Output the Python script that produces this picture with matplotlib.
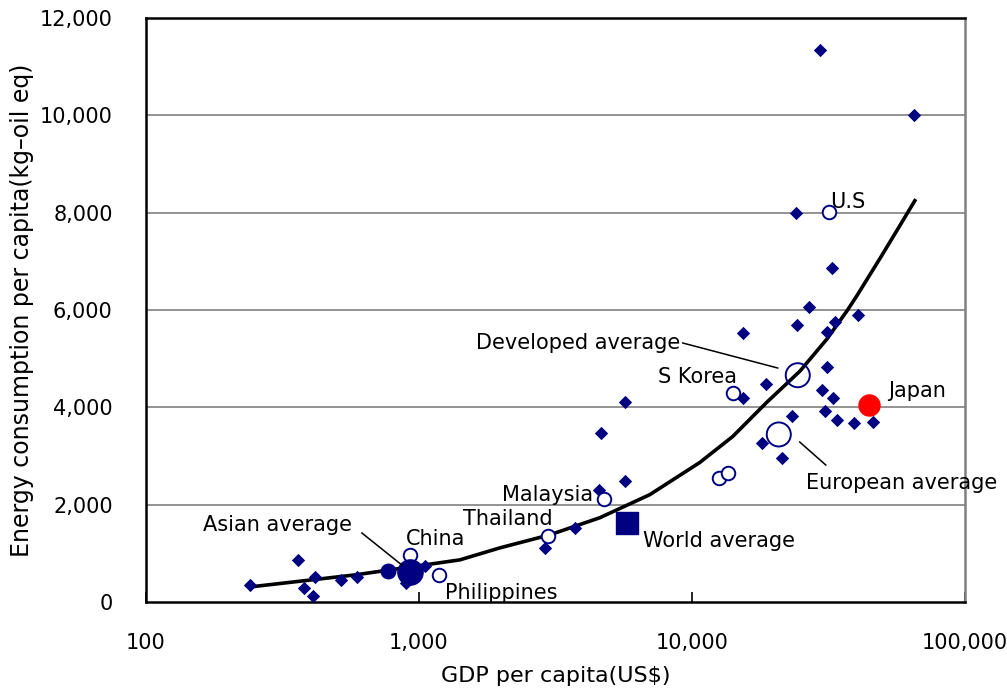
import matplotlib.pyplot as plt
from matplotlib.ticker import FuncFormatter, FixedLocator, NullLocator

plt.rcParams['font.family'] = ['DejaVu Sans']

NAVY = '#000080'

# countries (diamonds)
gdp_countries = [240, 360, 416, 380, 410, 518, 591, 896, 1052,
                 2897, 3727, 4565, 4645, 5686, 5686,
                 15380, 15380, 18660, 18030, 21360, 23230, 24250, 24040, 26840,
                 29900, 30700, 31250, 31250, 32850, 33400, 33950, 39190, 46030,
                 32570, 40550, 29440, 65040]
energy_countries = [350, 866, 515, 290, 124, 454, 522, 392, 742,
                    1113, 1526, 2309, 3464, 2495, 4103,
                    4186, 5526, 4474, 3258, 2969, 3815, 5690, 8000, 6062,
                    4350, 3920, 4830, 5550, 4200, 5750, 3730, 3670, 3691,
                    6866, 5897, 11340, 10000]

# named countries (open circles)
gdp_named = [31760, 14130, 4760, 2970, 925, 1184, 12560, 13540]
energy_named = [8020, 4290, 2124, 1361, 969, 557, 2557, 2660]

# averages
gdp_dev, energy_dev = 24450, 4660
gdp_eu, energy_eu = 20830, 3443
gdp_asia, energy_asia = 927, 619
gdp_world, energy_world = 5780, 1629
gdp_japan, energy_japan = 44480, 4041
gdp_mid, energy_mid = 769, 640

# trend line
trend_gdp = [240, 583, 1413, 1982, 3020, 4603, 7015, 10690, 14130, 18820,
             24880, 31250, 37000, 40220, 48830, 57830, 65650]
trend_energy = [309, 557, 866, 1113, 1381, 1732, 2206, 2866, 3402, 4103,
                4742, 5402, 5979, 6289, 7052, 7732, 8247]

# label text and anchor (x, y, horizontal alignment)
labels = ['U.S', 'S Korea', 'Malaysia', 'Thailand', 'China', 'Philippines',
          'Japan', 'Developed average', 'European average', 'World average',
          'Asian average']
label_x = [32030, 14620, 4336, 3097, 896, 1245, 52250, 9036, 26160, 6614, 569]
label_y = [8219, 4623, 2198, 1705, 1294, 185, 4335, 5322, 2445, 1253, 1582]
label_ha = ['left', 'right', 'right', 'right', 'left', 'left', 'left',
            'right', 'left', 'left', 'right']

# leader lines
leader_x = [(9268, 20650), (24860, 30970), (618, 866)]
leader_y = [(5322, 4808), (3287, 2815), (1418, 760)]

fig = plt.figure(figsize=(10.07, 6.93), dpi=100)
ax = fig.add_axes([0.145, 0.1313, 0.813, 0.8427])

ax.set_xscale('log')
ax.set_xlim(100, 100000)
ax.set_ylim(0, 12000)

for v in range(2000, 12001, 2000):
    ax.axhline(v, color='#808080', lw=1.2, zorder=1)

ax.plot(trend_gdp, trend_energy, color='black', lw=2.6, zorder=3)

ax.scatter(gdp_countries, energy_countries, marker='D', s=46, color=NAVY,
           linewidths=0, zorder=4)
ax.scatter(gdp_named, energy_named, marker='o', s=95, facecolors='white',
           edgecolors=NAVY, linewidths=1.4, zorder=4)
ax.scatter([gdp_dev, gdp_eu], [energy_dev, energy_eu], marker='o', s=300,
           facecolors='none', edgecolors=NAVY, linewidths=1.4, zorder=5)
ax.scatter([gdp_asia], [energy_asia], marker='o', s=330, color=NAVY, zorder=5)
ax.scatter([gdp_mid], [energy_mid], marker='o', s=110, color=NAVY, zorder=5)
ax.scatter([gdp_world], [energy_world], marker='s', s=260, color=NAVY, zorder=5)
ax.scatter([gdp_japan], [energy_japan], marker='o', s=230, color='#ff0000', zorder=5)

for t, x, y, ha in zip(labels, label_x, label_y, label_ha):
    ax.text(x, y, t, ha=ha, va='center', fontsize=15, color='black', zorder=6)

for xs, ys in zip(leader_x, leader_y):
    ax.plot(xs, ys, color='black', lw=1.1, zorder=6)

ax.xaxis.set_major_locator(FixedLocator([100, 1000, 10000, 100000]))
ax.xaxis.set_minor_locator(NullLocator())
ax.xaxis.set_major_formatter(FuncFormatter(lambda v, p: f'{int(v):,}'))
ax.yaxis.set_major_locator(FixedLocator(range(0, 12001, 2000)))
ax.yaxis.set_major_formatter(FuncFormatter(lambda v, p: f'{int(v):,}'))
ax.tick_params(axis='x', direction='in', length=7, width=1.2, labelsize=15, pad=22)
ax.tick_params(axis='y', length=0, labelsize=15, pad=24)

for s in ['left', 'bottom', 'top']:
    ax.spines[s].set_linewidth(1.8)
    ax.spines[s].set_color('black')
ax.spines['right'].set_color('#808080')
ax.spines['right'].set_linewidth(1.8)

ax.set_xlabel('GDP per capita(US$)', fontsize=16, labelpad=10)
ax.set_ylabel('Energy consumption per capita(kg\u2013oil eq)', fontsize=17, labelpad=4)

fig.savefig('out.png', dpi=100)
